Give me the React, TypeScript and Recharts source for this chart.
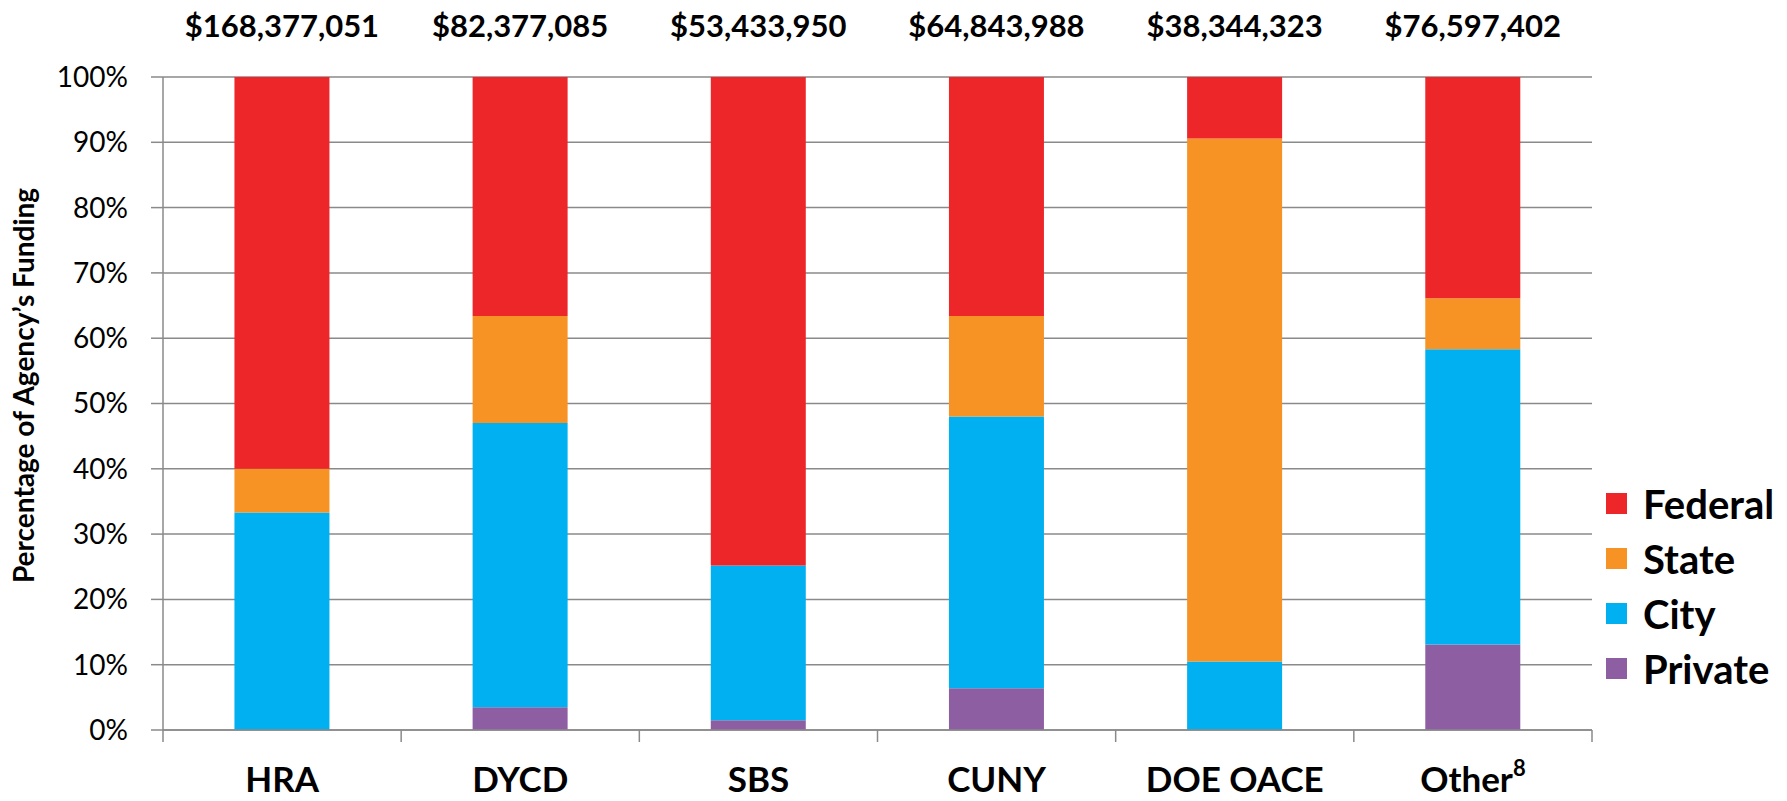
import React from "react";
import { BarChart, Bar, XAxis, YAxis, CartesianGrid, Legend, LabelList, Label } from "recharts";

const agencies = ["HRA", "DYCD", "SBS", "CUNY", "DOE OACE", "Other"];
const totals = ["$168,377,051", "$82,377,085", "$53,433,950", "$64,843,988", "$38,344,323", "$76,597,402"];
const privateShare = [0, 3.5, 1.5, 6.4, 0, 13.1];
const cityShare = [33.3, 43.5, 23.7, 41.6, 10.5, 45.2];
const stateShare = [6.7, 16.4, 0, 15.4, 80.1, 7.8];
const federalShare = [60.0, 36.6, 74.8, 36.6, 9.4, 33.9];
const yTicks = [0, 10, 20, 30, 40, 50, 60, 70, 80, 90, 100];

const series = [
  { key: "private", name: "Private", color: "#8E5EA2" },
  { key: "city", name: "City", color: "#00B0F0" },
  { key: "state", name: "State", color: "#F69324" },
  { key: "federal", name: "Federal", color: "#ED2629" },
];

const data = agencies.map((name, i) => ({
  name,
  total: totals[i],
  private: privateShare[i],
  city: cityShare[i],
  state: stateShare[i],
  federal: federalShare[i],
}));

const FONT = "Lato, 'Open Sans', sans-serif";
const GRID = "#8a8a8a";

// category labels at the centre, tick marks on the category boundaries (Excel style)
const BottomTick = (props: any) => {
  const { x, y, payload, index, visibleTicksCount, width } = props;
  const half = payload.offset ?? width / visibleTicksCount / 2;
  const label = payload.value;
  return (
    <g>
      <line x1={x - half} y1={y} x2={x - half} y2={y + 12} stroke={GRID} strokeWidth={1.5} />
      {index === visibleTicksCount - 1 && (
        <line x1={x + half} y1={y} x2={x + half} y2={y + 12} stroke={GRID} strokeWidth={1.5} />
      )}
      <text x={x} y={y + 62} textAnchor="middle" fontFamily={FONT} fontWeight={700} fontSize={35} fill="#000">
        {label}
        {label === "Other" && (
          <tspan dy={-16} fontSize={22}>8</tspan>
        )}
      </text>
    </g>
  );
};

const LegendBox = () => (
  <div style={{ fontFamily: FONT }}>
    {[...series].reverse().map((s) => (
      <div key={s.key} style={{ display: "flex", alignItems: "center", height: 55 }}>
        <div style={{ width: 21, height: 21, background: s.color, marginRight: 16 }} />
        <span style={{ fontSize: 40, fontWeight: 700, color: "#000", lineHeight: 1 }}>{s.name}</span>
      </div>
    ))}
  </div>
);

export default function App() {
  return (
    <div style={{ position: "absolute", left: 0, top: 0, width: 1787, height: 801, background: "#fff" }}>
      <BarChart
        width={1787}
        height={801}
        data={data}
        margin={{ top: 77, right: 195, bottom: 0, left: 0 }}
        barCategoryGap="30%"
      >
        <CartesianGrid vertical={false} stroke={GRID} strokeWidth={1.5} />
        <XAxis
          dataKey="name"
          height={71}
          interval={0}
          tickSize={0}
          tickMargin={0}
          tickLine={false}
          tick={<BottomTick />}
          axisLine={{ stroke: GRID, strokeWidth: 1.5 }}
        />
        <YAxis
          domain={[0, 100]}
          ticks={yTicks}
          width={163}
          tickSize={12}
          tickMargin={23}
          tickFormatter={(v) => `${v}%`}
          tick={{ fill: "#000", fontSize: 28, fontFamily: FONT }}
          tickLine={{ stroke: GRID, strokeWidth: 1.5 }}
          axisLine={{ stroke: GRID, strokeWidth: 1.5 }}
        >
          <Label
            content={(p: any) => {
              const vb = p.viewBox;
              const cx = vb.x + 23;
              const cy = vb.y + vb.height / 2 - 18;
              return (
                <text
                  x={cx}
                  y={cy}
                  transform={`rotate(-90, ${cx}, ${cy})`}
                  textAnchor="middle"
                  dominantBaseline="central"
                  fontFamily={FONT}
                  fontWeight={700}
                  fontSize={28}
                  fill="#000"
                >
                  Percentage of Agency’s Funding
                </text>
              );
            }}
          />
        </YAxis>
        <Legend
          layout="horizontal"
          verticalAlign="middle"
          align="center"
          content={<LegendBox />}
          wrapperStyle={{ left: 1606, top: 476, width: 181 }}
        />
        {series.map((s) => (
          <Bar
            key={s.key}
            dataKey={s.key}
            name={s.name}
            stackId="a"
            fill={s.color}
            isAnimationActive={false}
          >
            {s.key === "federal" && (
              <LabelList
                dataKey="total"
                position="top"
                offset={40}
                fill="#000"
                fontSize={31}
                fontWeight={700}
                fontFamily={FONT}
              />
            )}
          </Bar>
        ))}
      </BarChart>
    </div>
  );
}
